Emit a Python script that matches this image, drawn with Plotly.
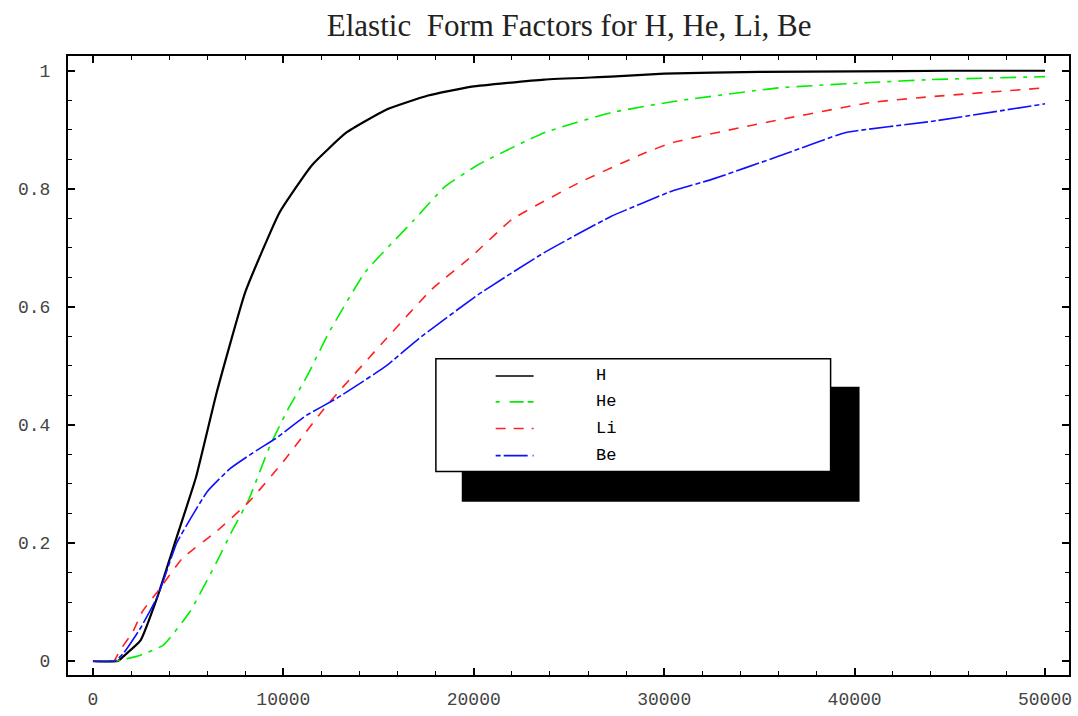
import plotly.graph_objects as go

# ---- data ----
H_x = [0, 1300, 1600, 2500, 3400, 4400, 5400, 6500, 8000, 9800, 11500, 13300, 15400, 17600, 19900, 23700, 27200, 30000, 35000, 40000, 45000, 50000]
H_y = [0, 0, 0.008, 0.035, 0.11, 0.21, 0.31, 0.455, 0.625, 0.76, 0.84, 0.895, 0.934, 0.958, 0.973, 0.985, 0.99, 0.995, 0.998, 0.999, 1.0, 1.0]

He_x = [0, 1200, 2500, 3700, 5100, 6500, 7300, 8200, 9300, 10300, 11200, 12400, 14300, 16800, 18500, 20300, 23700, 27200, 30500, 36000, 40800, 44000, 50000]
He_y = [0, 0, 0.01, 0.027, 0.084, 0.168, 0.22, 0.275, 0.365, 0.43, 0.48, 0.557, 0.659, 0.745, 0.804, 0.842, 0.895, 0.929, 0.948, 0.971, 0.98, 0.985, 0.99]

Li_x = [0, 1100, 1400, 2100, 2600, 3400, 4700, 6500, 8200, 10000, 12000, 12900, 15400, 17800, 19900, 22000, 25500, 29000, 30400, 34200, 40800, 44000, 50000]
Li_y = [0, 0, 0.017, 0.05, 0.084, 0.118, 0.174, 0.22, 0.27, 0.338, 0.422, 0.456, 0.546, 0.63, 0.686, 0.748, 0.81, 0.861, 0.878, 0.905, 0.946, 0.956, 0.971]

Be_x = [0, 1150, 1600, 2500, 3400, 4400, 5100, 6000, 7200, 8600, 9600, 11200, 12800, 15400, 17100, 20200, 23700, 27200, 30400, 32500, 36000, 39500, 44000, 50000]
Be_y = [0, 0, 0.013, 0.056, 0.11, 0.2, 0.24, 0.287, 0.326, 0.357, 0.377, 0.416, 0.445, 0.5, 0.546, 0.62, 0.692, 0.753, 0.796, 0.816, 0.855, 0.895, 0.914, 0.944]

names = ["H", "He", "Li", "Be"]
colors = ["#000000", "#00ee00", "#ff2020", "#1010ff"]
dashes = ["solid", "16px,7px,4px,7px", "10px,9px", "24px,3px,5px,3px"]
legend_dashes = ["solid", "4px,10px,14px", "10px,8px", "5px,3px,24px"]
widths = [2.2, 1.6, 1.6, 1.6]
series = [(H_x, H_y), (He_x, He_y), (Li_x, Li_y), (Be_x, Be_y)]

x_ticks = [0, 10000, 20000, 30000, 40000, 50000]
x_ticktext = ["0", "10000", "20000", "30000", "40000", "50000"]
y_ticks = [0, 0.2, 0.4, 0.6, 0.8, 1]
y_ticktext = ["0", "0.2", "0.4", "0.6", "0.8", "1"]

fig = go.Figure()
for (xs, ys), n, c, d, w in zip(series, names, colors, dashes, widths):
    fig.add_trace(go.Scatter(x=xs, y=ys, mode="lines", name=n,
                             line=dict(color=c, dash=d, width=w, shape="spline", smoothing=0.4),
                             showlegend=False))

# custom legend box with drop shadow (data coordinates)
shapes = [
    dict(type="rect", xref="x", yref="y", x0=19370, x1=40260, y0=0.270, y1=0.4645,
         fillcolor="black", line=dict(color="black", width=0), layer="above"),
    dict(type="rect", xref="x", yref="y", x0=18010, x1=38740, y0=0.321, y1=0.512,
         fillcolor="white", line=dict(color="black", width=1.5), layer="above"),
]
leg_rows = [0.483, 0.439, 0.394, 0.348]
annotations = []
for n, c, d, ry in zip(names, colors, legend_dashes, leg_rows):
    shapes.append(dict(type="line", xref="x", yref="y", x0=21150, x1=23140, y0=ry, y1=ry,
                       line=dict(color=c, width=1.6, dash=d), layer="above"))
    annotations.append(dict(x=26335, y=ry, xref="x", yref="y", text=n, showarrow=False,
                            xanchor="left", yanchor="middle",
                            font=dict(family="Liberation Mono, Courier New, monospace", size=17, color="black")))

tickfont = dict(family="Liberation Mono, DejaVu Sans Mono, monospace", size=18, color="#444444")

fig.update_layout(
    width=1078, height=716,
    margin=dict(l=68, r=6, t=56, b=39),
    paper_bgcolor="white", plot_bgcolor="white",
    title=dict(text="Elastic  Form Factors for H, He, Li, Be", x=0.528, xanchor="center",
               y=0.965, yanchor="middle",
               font=dict(family="Liberation Serif, Times New Roman, serif", size=31, color="#222222")),
    shapes=shapes,
    annotations=annotations,
    showlegend=False,
)
fig.update_xaxes(range=[-1310, 51260], tickvals=x_ticks, ticktext=x_ticktext, ticks="inside", ticklen=7,
                 tickwidth=2, tickcolor="black", showline=True, linecolor="black", linewidth=2,
                 mirror="allticks", showgrid=False, zeroline=False,
                 minor=dict(dtick=2000, tick0=0, ticks="inside", ticklen=4, tickwidth=1, tickcolor="black", showgrid=False),
                 tickfont=tickfont, ticklabelstandoff=6)
fig.update_yaxes(range=[-0.0236, 1.025], tickvals=y_ticks, ticktext=y_ticktext, ticks="inside", ticklen=7,
                 tickwidth=2, tickcolor="black", showline=True, linecolor="black", linewidth=2,
                 mirror="allticks", showgrid=False, zeroline=False,
                 minor=dict(dtick=0.05, tick0=0, ticks="inside", ticklen=4, tickwidth=1, tickcolor="black", showgrid=False),
                 tickfont=tickfont, ticklabelstandoff=12)

fig.write_html("out.html")
